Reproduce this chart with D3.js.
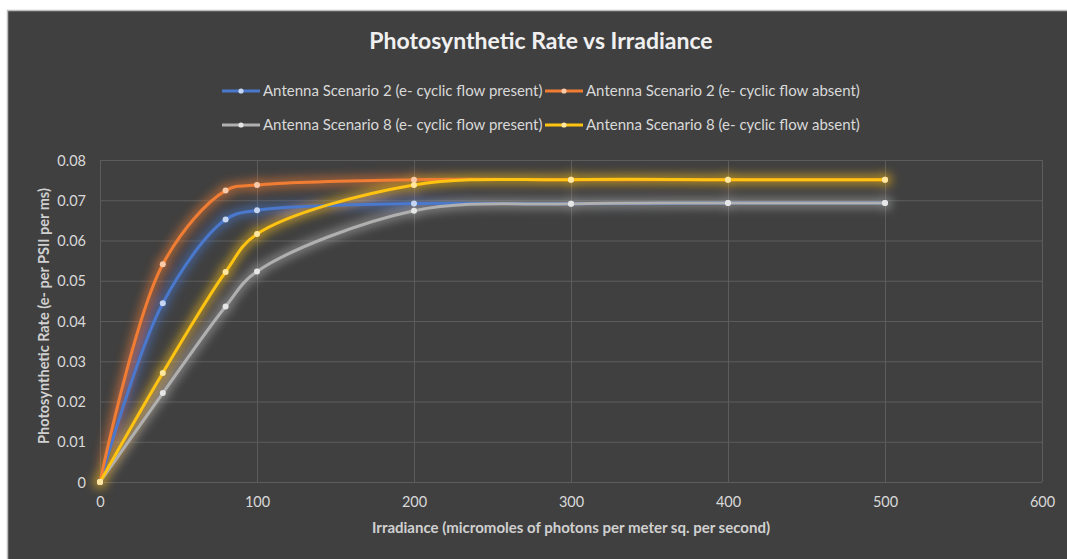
<!DOCTYPE html>
<html>
<head>
<meta charset="utf-8">
<script src="https://cdn.jsdelivr.net/npm/d3@7"></script>
<style>
  html, body { margin: 0; padding: 0; background: #ffffff; }
  svg { display: block; }
</style>
</head>
<body>
<svg id="chart" width="1067" height="559"></svg>
<script>
// Irradiance levels (micromoles of photons per m² per s)
const irradiance = [0, 40, 80, 100, 200, 300, 400, 500];

// Photosynthetic rate (e- per PSII per ms) for each scenario
const s2Present = [0, 0.0444, 0.0652, 0.0675, 0.0692, 0.0691, 0.0693, 0.0693];
const s2Absent  = [0, 0.0541, 0.0724, 0.0738, 0.0751, 0.0751, 0.0751, 0.0751];
const s8Present = [0, 0.0221, 0.0436, 0.0523, 0.0674, 0.0691, 0.0693, 0.0693];
const s8Absent  = [0, 0.0271, 0.0522, 0.0616, 0.0738, 0.0751, 0.0751, 0.0751];

const seriesNames = [
  "Antenna Scenario 2 (e- cyclic flow present)",
  "Antenna Scenario 2 (e- cyclic flow absent)",
  "Antenna Scenario 8 (e- cyclic flow present)",
  "Antenna Scenario 8 (e- cyclic flow absent)"
];
const seriesValues = [s2Present, s2Absent, s8Present, s8Absent];
const seriesColors = ["#4a78cc", "#f07d33", "#b0b0b0", "#ffc312"];
const markerColors = ["#c6d5f2", "#f9c9a8", "#e6e6e6", "#ffe7a0"];

const xTicks = [0, 100, 200, 300, 400, 500, 600];
const yTicks = [0, 0.01, 0.02, 0.03, 0.04, 0.05, 0.06, 0.07, 0.08];

const svg = d3.select("#chart");
const W = 1067, H = 559;
const font = "Lato, 'Open Sans', sans-serif";

// Chart background panel
svg.append("rect").attr("x", 7).attr("y", 10).attr("width", W - 7).attr("height", H - 10)
  .attr("fill", "#404040");
svg.append("path").attr("d", `M7.5,${H} V10.5 H${W}`).attr("fill", "none")
  .attr("stroke", "#bdbdbd").attr("stroke-width", 1.5);

// Glow filter for series lines
const defs = svg.append("defs");
const glow = defs.append("filter").attr("id", "glow")
  .attr("x", "-20%").attr("y", "-20%").attr("width", "140%").attr("height", "140%");
glow.append("feGaussianBlur").attr("in", "SourceGraphic").attr("stdDeviation", 5);

const plot = { left: 100, right: 1042, top: 160, bottom: 482 };
const x = d3.scaleLinear().domain([0, 600]).range([plot.left, plot.right]);
const y = d3.scaleLinear().domain([0, 0.08]).range([plot.bottom, plot.top]);

// Gridlines
const grid = svg.append("g");
grid.selectAll("line.h").data(yTicks).join("line")
  .attr("x1", plot.left).attr("x2", plot.right)
  .attr("y1", d => y(d) + 0.5).attr("y2", d => y(d) + 0.5)
  .attr("stroke", "#5c5c5c").attr("stroke-width", 1);
grid.selectAll("line.v").data(xTicks).join("line")
  .attr("y1", plot.top).attr("y2", plot.bottom)
  .attr("x1", d => x(d) + 0.5).attr("x2", d => x(d) + 0.5)
  .attr("stroke", "#5c5c5c").attr("stroke-width", 1);

// Axes (labels only; lines drawn as gridlines)
const yAxis = svg.append("g").attr("transform", `translate(${plot.left - 14},0)`)
  .call(d3.axisLeft(y).tickValues(yTicks).tickSize(0).tickFormat(d => d === 0 ? "0" : d3.format(".2f")(d)));
yAxis.select(".domain").remove();
yAxis.selectAll("text").attr("fill", "#d9d9d9").style("font-family", font).style("font-size", "14.5px")
  .attr("dx", "0").attr("dy", "0.35em").attr("x", 0);

const xAxis = svg.append("g").attr("transform", `translate(0,${plot.bottom + 15})`)
  .call(d3.axisBottom(x).tickValues(xTicks).tickSize(0).tickFormat(d3.format("d")));
xAxis.select(".domain").remove();
xAxis.selectAll("text").attr("fill", "#d9d9d9").style("font-family", font).style("font-size", "14.5px")
  .attr("dy", "0.71em").attr("y", 0);

// Title and axis titles
svg.append("text").attr("x", 541).attr("y", 49).attr("text-anchor", "middle")
  .attr("fill", "#f0f0f0").style("font-family", font).style("font-weight", "bold").style("font-size", "23px")
  .text("Photosynthetic Rate vs Irradiance");
svg.append("text").attr("x", 571).attr("y", 533).attr("text-anchor", "middle")
  .attr("fill", "#d0d0d0").style("font-family", font).style("font-weight", "bold").style("font-size", "15px")
  .text("Irradiance (micromoles of photons per meter sq. per second)");
svg.append("text").attr("transform", "translate(49,316) rotate(-90)").attr("text-anchor", "middle")
  .attr("fill", "#d0d0d0").style("font-family", font).style("font-weight", "bold").style("font-size", "14.5px")
  .text("Photosynthetic Rate (e- per PSII per ms)");

// Series
const line = d3.line().x(d => x(d[0])).y(d => y(d[1])).curve(d3.curveCatmullRom.alpha(0.5));
const series = seriesValues.map((vals, i) => ({
  name: seriesNames[i], color: seriesColors[i], marker: markerColors[i],
  points: irradiance.map((xv, j) => [xv, vals[j]])
}));

const glowLayer = svg.append("g").attr("filter", "url(#glow)").attr("opacity", 0.55);
series.forEach(s => {
  glowLayer.append("path").attr("d", line(s.points)).attr("fill", "none")
    .attr("stroke", s.color).attr("stroke-width", 10);
  glowLayer.selectAll(null).data(s.points).join("circle")
    .attr("cx", d => x(d[0])).attr("cy", d => y(d[1])).attr("r", 7).attr("fill", s.color);
});

const lineLayer = svg.append("g");
series.forEach(s => {
  lineLayer.append("path").attr("d", line(s.points)).attr("fill", "none")
    .attr("stroke", s.color).attr("stroke-width", 3).attr("stroke-linecap", "round");
});
series.forEach(s => {
  lineLayer.selectAll(null).data(s.points).join("circle")
    .attr("cx", d => x(d[0])).attr("cy", d => y(d[1])).attr("r", 3).attr("fill", s.marker);
});

// Legend (two rows, two columns)
const legendPos = [[222, 91], [545, 91], [222, 125], [545, 125]];
series.forEach((s, i) => {
  const [lx, ly] = legendPos[i];
  const g = svg.append("g").attr("transform", `translate(${lx},${ly})`);
  g.append("line").attr("x1", 0).attr("x2", 38).attr("y1", 0).attr("y2", 0)
    .attr("stroke", s.color).attr("stroke-width", 3);
  g.append("circle").attr("cx", 19).attr("cy", 0).attr("r", 2.6).attr("fill", s.marker);
  g.append("text").attr("x", 41).attr("y", 0).attr("dy", "0.35em")
    .attr("fill", "#d9d9d9").style("font-family", font).style("font-size", "15px")
    .text(s.name);
});
</script>
</body>
</html>
